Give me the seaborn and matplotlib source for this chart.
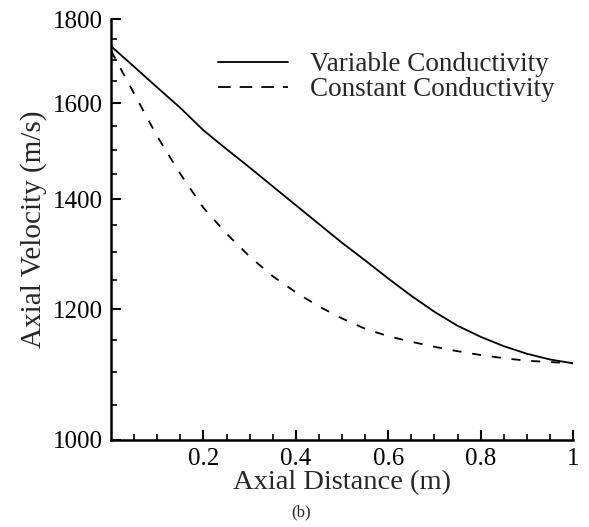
"""
Axial velocity along the duct for variable vs constant conductivity.
"""

import numpy as np
import pandas as pd
import matplotlib
matplotlib.use("Agg")
import matplotlib.pyplot as plt
import seaborn as sns
from matplotlib.ticker import FixedLocator, NullFormatter

# Values
distance = [0.0, 0.05, 0.1, 0.15, 0.2, 0.25, 0.3, 0.35, 0.4, 0.45, 0.5,
            0.55, 0.6, 0.65, 0.7, 0.75, 0.8, 0.85, 0.9, 0.95, 1.0]
variable_velocity = [1733, 1684, 1636, 1590, 1541, 1501, 1463, 1425, 1388, 1352, 1317,
                     1285, 1253, 1223, 1196, 1173, 1155, 1140, 1128, 1119, 1113]
constant_velocity = [1722, 1622, 1528, 1450, 1383, 1334, 1292, 1257, 1229, 1205, 1185,
                     1168, 1156, 1147, 1139, 1132, 1126, 1121, 1117, 1115, 1113]
series_names = ["Variable Conductivity", "Constant Conductivity"]

y_major = [1000, 1200, 1400, 1600, 1800]
x_major = [0.2, 0.4, 0.6, 0.8, 1.0]
x_labels = ["0.2", "0.4", "0.6", "0.8", "1"]


def build_frame() -> pd.DataFrame:
    """Long-format table for seaborn."""
    parts = []
    for name, values in zip(series_names, [variable_velocity, constant_velocity]):
        parts.append(pd.DataFrame({"distance": distance, "velocity": values, "case": name}))
    return pd.concat(parts, ignore_index=True)


def main():
    sns.set_theme(style="ticks")
    plt.rcParams["font.family"] = ["Liberation Serif", "DejaVu Serif"]

    df = build_frame()

    fig = plt.figure(figsize=(5.89, 5.27), dpi=100)
    ax = fig.add_axes([111 / 589, 1 - 440 / 527, 462 / 589, 421 / 527])

    sns.lineplot(data=df, x="distance", y="velocity", style="case",
                 style_order=series_names,
                 dashes={series_names[0]: "", series_names[1]: (5, 6)},
                 color="black", linewidth=1.3, ax=ax, legend=False)

    ax.set_yscale("log")
    ax.set_xlim(0, 1)
    ax.set_ylim(1000, 1800)

    ax.yaxis.set_major_locator(FixedLocator(y_major))
    ax.set_yticklabels([str(v) for v in y_major])
    ax.yaxis.set_minor_locator(FixedLocator([v for v in range(1050, 1800, 50) if v not in y_major]))
    ax.yaxis.set_minor_formatter(NullFormatter())

    ax.xaxis.set_major_locator(FixedLocator(x_major))
    ax.set_xticklabels(x_labels)
    ax.xaxis.set_minor_locator(FixedLocator(np.arange(0.05, 1.0, 0.05)))

    ax.tick_params(which="both", direction="in", colors="black", labelsize=18)
    ax.tick_params(which="major", length=7, width=1.5, pad=6)
    ax.tick_params(which="minor", length=4, width=1.2)

    for side in ["top", "right"]:
        ax.spines[side].set_visible(False)
    for side in ["left", "bottom"]:
        ax.spines[side].set_linewidth(1.8)
        ax.spines[side].set_color("black")

    ax.set_xlabel("Axial Distance (m)", fontsize=20.5, labelpad=0)
    ax.set_ylabel("Axial Velocity (m/s)", fontsize=21, labelpad=4)

    # legend with hand-made handles, no frame
    handles = [plt.Line2D([], [], color="black", linewidth=1.3),
               plt.Line2D([], [], color="black", linewidth=1.3, linestyle=(0, (7, 5)))]
    fig.legend(handles, series_names, loc="upper left",
               bbox_to_anchor=(218 / 589, 1 - 52 / 527), frameon=False,
               fontsize=19.5, handlelength=2.6, handletextpad=0.8,
               labelspacing=0.0, borderpad=0, borderaxespad=0)

    fig.text(301 / 589, 1 - 512 / 527, "(b)", ha="center", va="center", fontsize=12)

    fig.savefig("out.png", dpi=100)
    plt.close(fig)


if __name__ == "__main__":
    main()
